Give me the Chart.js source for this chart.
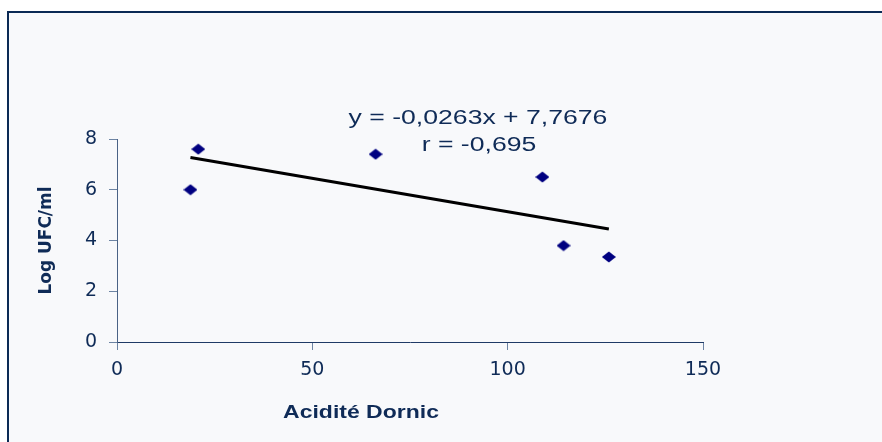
<!DOCTYPE html>
<html>
<head>
<meta charset="utf-8">
<script src="https://cdn.jsdelivr.net/npm/chart.js@4.4.1/dist/chart.umd.min.js"></script>
<style>
  html, body { margin: 0; padding: 0; background: #ffffff; }
  #c { display: block; }
</style>
</head>
<body>
<canvas id="c" width="882" height="442"></canvas>
<script>
// ---- data ----
const acidity = [18.8, 20.8, 66.2, 108.9, 114.3, 125.9];   // Acidité Dornic
const logUfc  = [6.0, 7.6, 7.4, 6.5, 3.8, 3.35];          // Log UFC/ml
const trendSlope = -0.0263;
const trendIntercept = 7.7676;
const equationLines = ['y = -0,0263x + 7,7676', 'r = -0,695'];
const xTicks = [0, 50, 100, 150];
const yTicks = [0, 2, 4, 6, 8];
const xTitle = 'Acidité Dornic';
const yTitle = 'Log UFC/ml';

const TEXT = '#0f2b57';
const scatterPts = acidity.map((x, i) => ({ x: x, y: logUfc[i] }));
const xMin = Math.min(...acidity), xMax = Math.max(...acidity);
const trendPts = [xMin, xMax].map(x => ({ x: x, y: trendSlope * x + trendIntercept }));

// stretched diamond marker (as in the reference)
const marker = document.createElement('canvas');
marker.width = 14; marker.height = 12;
(function () {
  const m = marker.getContext('2d');
  m.fillStyle = '#000080';
  m.beginPath();
  m.moveTo(0, 6); m.lineTo(7, 0.5); m.lineTo(14, 6); m.lineTo(7, 11.5);
  m.closePath(); m.fill();
})();

function stretchedText(ctx, text, cx, baseline, font, sx) {
  ctx.save();
  ctx.font = font;
  ctx.translate(cx, baseline);
  ctx.scale(sx, 1);
  ctx.textAlign = 'center';
  ctx.textBaseline = 'alphabetic';
  ctx.fillText(text, 0, 0);
  ctx.restore();
}

const frame = {
  id: 'frame',
  beforeDraw(chart) {
    const ctx = chart.ctx, W = chart.width, H = chart.height;
    ctx.save();
    ctx.fillStyle = '#ffffff';
    ctx.fillRect(0, 0, W, H);
    ctx.fillStyle = '#f8f9fb';
    ctx.fillRect(8, 12, W - 8, H - 12);
    ctx.strokeStyle = '#0b2a55';
    ctx.lineWidth = 2;
    ctx.beginPath();
    ctx.moveTo(8, H); ctx.lineTo(8, 12); ctx.lineTo(W, 12);
    ctx.stroke();
    ctx.restore();
  }
};

const annotate = {
  id: 'annotate',
  afterDraw(chart) {
    const ctx = chart.ctx;
    ctx.save();
    ctx.fillStyle = TEXT;
    stretchedText(ctx, equationLines[0], 478, 124, '20px "Liberation Sans", Arial', 1.33);
    stretchedText(ctx, equationLines[1], 479, 151, '20px "Liberation Sans", Arial', 1.33);
    stretchedText(ctx, xTitle, 361, 418, 'bold 19px "Liberation Sans", Arial', 1.21);
    ctx.restore();
  }
};

new Chart(document.getElementById('c'), {
  data: {
    datasets: [
      { type: 'scatter', data: scatterPts, pointStyle: marker, pointRadius: 7, pointHoverRadius: 7, order: 1 },
      { type: 'line', data: trendPts, borderColor: '#000000', borderWidth: 3, pointRadius: 0, fill: false, order: 2 }
    ]
  },
  options: {
    responsive: false,
    animation: false,
    devicePixelRatio: 1,
    layout: { padding: { left: 0, right: 179, top: 139, bottom: 0 } },
    plugins: { legend: { display: false }, tooltip: { enabled: false } },
    scales: {
      x: {
        type: 'linear', min: 0, max: 150,
        afterBuildTicks(s) { s.ticks = xTicks.map(v => ({ value: v })); },
        afterFit(s) { s.height = 100; },
        ticks: { color: TEXT, font: { family: 'DejaVu Sans', size: 19 }, padding: 9 },
        grid: { drawOnChartArea: false, drawTicks: true, tickLength: 8, color: '#6d84a3' },
        border: { display: true, color: '#1f3a66', width: 1 }
      },
      y: {
        type: 'linear', min: 0, max: 8,
        afterBuildTicks(s) { s.ticks = yTicks.map(v => ({ value: v })); },
        afterFit(s) { s.width = 117; },
        ticks: { color: TEXT, font: { family: 'DejaVu Sans', size: 19 }, padding: 12 },
        grid: { drawOnChartArea: false, drawTicks: true, tickLength: 8, color: '#6d84a3' },
        border: { display: true, color: '#4a6285', width: 1 },
        title: { display: true, text: yTitle, color: TEXT,
                 font: { family: 'DejaVu Sans', size: 17, weight: 'bold' }, padding: { top: 36 } }
      }
    }
  },
  plugins: [frame, annotate]
});
</script>
</body>
</html>
